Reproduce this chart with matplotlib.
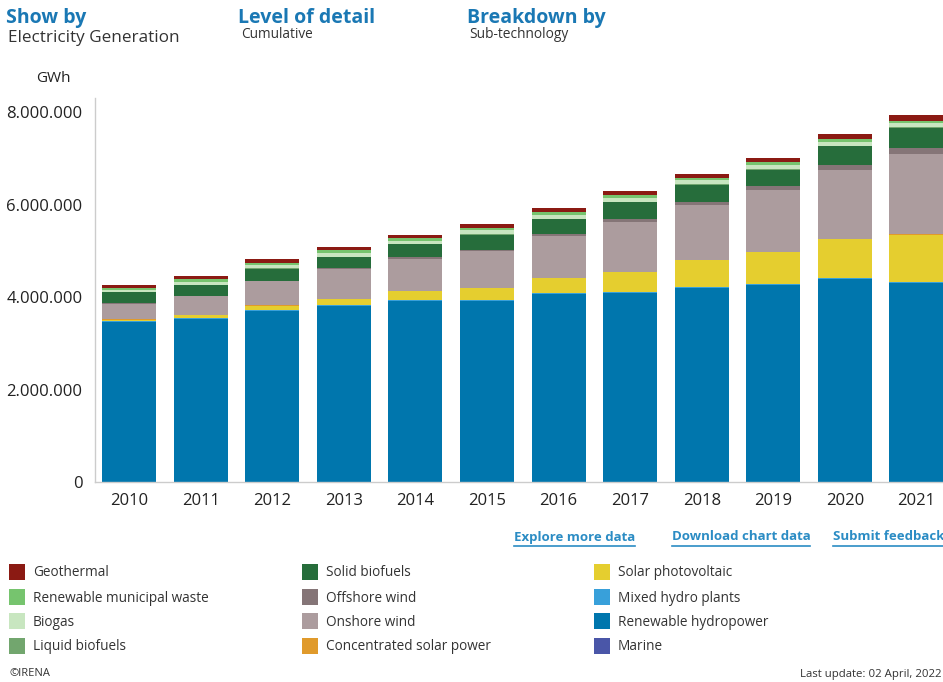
import matplotlib
matplotlib.use("Agg")
import matplotlib.pyplot as plt
from matplotlib.patches import Rectangle
from matplotlib.lines import Line2D
from matplotlib.ticker import FuncFormatter

plt.rcParams['font.family'] = ['Open Sans', 'DejaVu Sans']

# Electricity generation (GWh), cumulative, by sub-technology
years = ['2010', '2011', '2012', '2013', '2014', '2015',
         '2016', '2017', '2018', '2019', '2020', '2021']

marine = [500, 500, 500, 900, 1000, 1000, 1000, 1000, 1000, 1000, 1000, 1000]
hydropower = [3460000, 3525000, 3695000, 3800000, 3910000, 3910000,
              4060000, 4080000, 4190000, 4255000, 4385000, 4300000]
mixed_hydro = [26000, 26000, 29000, 32000, 30000, 30000,
               32000, 33000, 32000, 32000, 32000, 30000]
solar_pv = [30000, 62000, 95000, 124000, 186000, 250000,
            314000, 421000, 573000, 680000, 831000, 1025000]
csp = [1600, 3000, 5000, 8000, 9000, 10000,
       11000, 12000, 12000, 13000, 13000, 14000]
onshore_wind = [340000, 400000, 520000, 640000, 700000, 790000,
                905000, 1083000, 1190000, 1340000, 1480000, 1730000]
offshore_wind = [7000, 11000, 14000, 19000, 24000, 40000,
                 43000, 53000, 67000, 85000, 110000, 130000]
solid_biofuels = [238000, 240000, 260000, 245000, 281000, 325000,
                  325000, 368000, 368000, 346000, 411000, 433000]
liquid_biofuels = [5000, 6000, 7000, 9000, 10000, 10000,
                   11000, 11000, 11000, 12000, 12000, 12000]
biogas = [50000, 65000, 70000, 80000, 70000, 80000,
          80000, 80000, 85000, 90000, 92000, 88000]
municipal_waste = [32000, 45000, 53000, 60000, 50000, 60000,
                   60000, 61000, 59000, 63000, 66000, 60000]
geothermal = [68000, 69000, 70000, 72000, 76000, 80000,
              82000, 90000, 88000, 100000, 105000, 120000]

# stacking order, bottom to top
series = [
    ('Marine', marine, '#4a56a8'),
    ('Renewable hydropower', hydropower, '#0076ad'),
    ('Mixed hydro plants', mixed_hydro, '#38a0da'),
    ('Solar photovoltaic', solar_pv, '#e5ce2f'),
    ('Concentrated solar power', csp, '#e09a2b'),
    ('Onshore wind', onshore_wind, '#ac9c9e'),
    ('Offshore wind', offshore_wind, '#857577'),
    ('Solid biofuels', solid_biofuels, '#266d3b'),
    ('Liquid biofuels', liquid_biofuels, '#72a66e'),
    ('Biogas', biogas, '#c8e6c0'),
    ('Renewable municipal waste', municipal_waste, '#76c46e'),
    ('Geothermal', geothermal, '#8b1a13'),
]

W, H = 943, 682
fig = plt.figure(figsize=(W / 100, H / 100), dpi=100)


def fx(px):
    return px / W


def fy(py):
    return 1 - py / H


ax = fig.add_axes([fx(95), fy(482), fx(W) - fx(95), fy(98) - fy(482)])

x = list(range(len(years)))
bottom = [0] * len(years)
for name, vals, color in series:
    ax.bar(x, vals, width=0.755, bottom=bottom, color=color, linewidth=0)
    bottom = [b + v for b, v in zip(bottom, vals)]

ax.set_xlim(-0.475, 11.37)
ax.set_ylim(0, 8.31e6)
ax.set_yticks([0, 2e6, 4e6, 6e6, 8e6])
ax.yaxis.set_major_formatter(FuncFormatter(lambda v, p: f"{int(v):,}".replace(',', '.')))
ax.set_xticks(x)
ax.set_xticklabels(years)
ax.tick_params(axis='both', length=0, labelsize=12, colors='#222222')
ax.tick_params(axis='x', pad=8)
ax.tick_params(axis='y', pad=9)
for s in ['top', 'right']:
    ax.spines[s].set_visible(False)
for s in ['left', 'bottom']:
    ax.spines[s].set_color('#cccccc')
    ax.spines[s].set_linewidth(1)

# header
blue = '#1a78b4'
fig.text(fx(6), fy(18), 'Show by', color=blue, fontsize=14, fontweight='bold', va='center')
fig.text(fx(238), fy(18), 'Level of detail', color=blue, fontsize=14, fontweight='bold', va='center')
fig.text(fx(467), fy(18), 'Breakdown by', color=blue, fontsize=14, fontweight='bold', va='center')
fig.text(fx(8), fy(38), 'Electricity Generation', color='#333333', fontsize=12.3, va='center')
fig.text(fx(241), fy(35), 'Cumulative', color='#333333', fontsize=9.8, va='center')
fig.text(fx(469), fy(35), 'Sub-technology', color='#333333', fontsize=9.9, va='center')
fig.text(fx(36), fy(78), 'GWh', color='#222222', fontsize=11, va='center')

# links
link_col = '#2b8cc4'
for label, x0, x1 in [('Explore more data', 514, 635),
                      ('Download chart data', 672, 810),
                      ('Submit feedback', 833, 943)]:
    fig.text(fx(x0), fy(537), label, color=link_col, fontsize=9.5,
             fontweight='bold', va='center')
    fig.add_artist(Line2D([fx(x0), fx(x1)], [fy(546), fy(546)],
                          color=link_col, linewidth=1.2))

# legend, reversed stacking order, column-major
legend_items = series[::-1]
col_x = [9, 302, 594]
row_y = [572, 597, 621, 646]
for i, (name, vals, color) in enumerate(legend_items):
    cx = col_x[i // 4]
    cy = row_y[i % 4]
    fig.add_artist(Rectangle((fx(cx), fy(cy + 8)), fx(16), fy(0) - fy(16),
                             facecolor=color, edgecolor='none'))
    fig.text(fx(cx + 24), fy(cy + 1), name, color='#333333', fontsize=9.8, va='center')

fig.text(fx(9), fy(674), '\u00a9IRENA', color='#333333', fontsize=8, va='center')
fig.text(fx(941), fy(674), 'Last update: 02 April, 2022', color='#333333', fontsize=8.2,
         va='center', ha='right')

fig.savefig('out.png', dpi=100)
